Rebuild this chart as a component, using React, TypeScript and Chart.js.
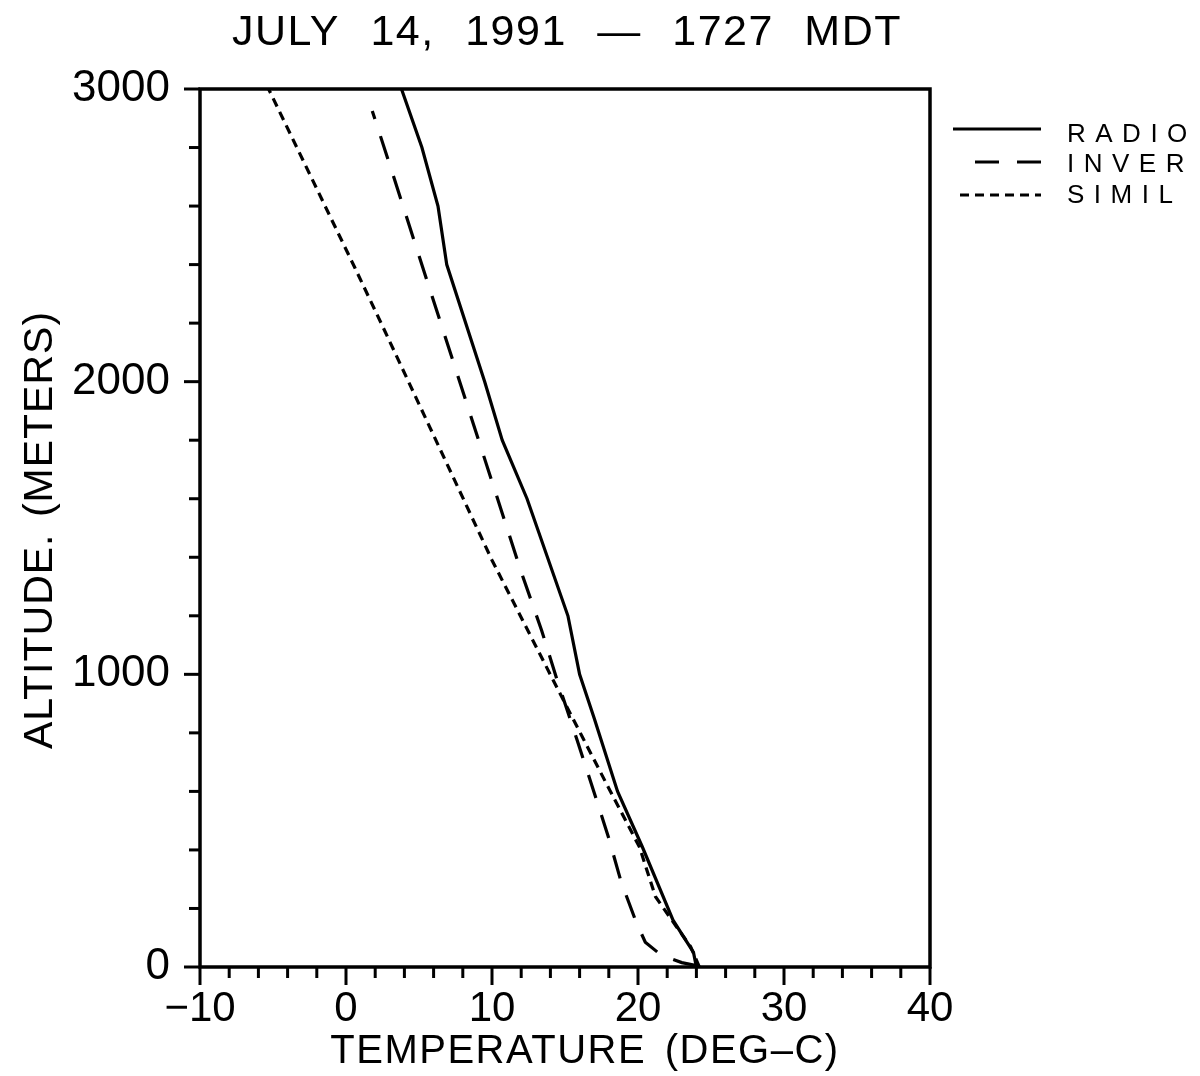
import React, { useEffect, useRef } from "react";
import { Chart, registerables } from "chart.js";

Chart.register(...registerables);

// ---------- text ----------
const TITLE = "JULY 14, 1991 \u2014 1727 MDT";
const X_TITLE = "TEMPERATURE (DEG\u2013C)";
const Y_TITLE = "ALTITUDE. (METERS)";
const SERIES_NAMES = ["RADIO", "INVER", "SIMIL"];

// ---------- axes ----------
const X_MIN = -10;
const X_MAX = 40;
const X_MAJOR = 10;
const X_MINOR = 2;
const Y_MIN = 0;
const Y_MAX = 3000;
const Y_MAJOR = 1000;
const Y_MINOR = 200;

// ---------- data (temperature deg C, altitude m) ----------
const radioAlt = [0, 50, 160, 410, 600, 850, 1000, 1200, 1600, 1800, 2000, 2400, 2600, 2800, 3000];
const radioTemp = [24.0, 23.8, 22.4, 20.3, 18.6, 17.0, 16.0, 15.2, 12.4, 10.7, 9.5, 6.9, 6.3, 5.2, 3.8];

const inverAlt = [5, 15, 40, 85, 150, 290, 440, 580, 780, 990, 1150, 1350, 2430, 2710, 2925];
const inverTemp = [24.0, 23.0, 21.6, 20.5, 19.9, 18.85, 18.0, 17.1, 15.8, 14.4, 13.4, 12.0, 5.0, 3.2, 1.8];

const similAlt = [0, 70, 140, 240, 410, 630, 785, 940, 1390, 2190, 2390, 3000];
const similTemp = [24.2, 23.6, 22.6, 21.2, 20.1, 17.8, 16.2, 14.6, 10.0, 2.5, 0.6, -5.3];

const toPoints = (t: number[], a: number[]) => t.map((v, i) => ({ x: v, y: a[i] }));

const FONT = "'Liberation Sans', Arial, sans-serif";

const DASH_INVER = [24, 18];
const DASH_SIMIL = [9, 6];

const decorPlugin = {
  id: "decor",
  afterDatasetsDraw(chart: any) {
    const { ctx, chartArea, scales } = chart;
    const { left, right, top, bottom } = chartArea;
    const xs = scales.x;
    const ys = scales.y;
    ctx.save();
    ctx.strokeStyle = "#000";
    ctx.fillStyle = "#000";
    ctx.setLineDash([]);
    // frame
    ctx.lineWidth = 3.5;
    ctx.strokeRect(left, top, right - left, bottom - top);
    // ticks
    ctx.lineWidth = 3;
    for (let v = X_MIN; v <= X_MAX + 1e-9; v += X_MINOR) {
      const px = xs.getPixelForValue(v);
      const major = Math.abs(v % X_MAJOR) < 1e-9;
      ctx.beginPath();
      ctx.moveTo(px, bottom);
      ctx.lineTo(px, bottom + (major ? 18 : 11));
      ctx.stroke();
    }
    for (let v = Y_MIN; v <= Y_MAX + 1e-9; v += Y_MINOR) {
      const py = ys.getPixelForValue(v);
      const major = Math.abs(v % Y_MAJOR) < 1e-9;
      ctx.beginPath();
      ctx.moveTo(left, py);
      ctx.lineTo(left - (major ? 16 : 11), py);
      ctx.stroke();
    }

    // title
    ctx.font = `43px ${FONT}`;
    ctx.textAlign = "center";
    ctx.textBaseline = "alphabetic";
    (ctx as any).letterSpacing = "1.5px";
    (ctx as any).wordSpacing = "17px";
    ctx.fillText(TITLE, 567, 45);
    (ctx as any).wordSpacing = "0px";

    // x title
    ctx.font = `40px ${FONT}`;
    (ctx as any).letterSpacing = "1.5px";
    (ctx as any).wordSpacing = "6px";
    ctx.fillText(X_TITLE, 585, 1063);
    (ctx as any).wordSpacing = "0px";

    // y title
    ctx.save();
    ctx.translate(52, 530);
    ctx.rotate(-Math.PI / 2);
    ctx.font = `41px ${FONT}`;
    (ctx as any).letterSpacing = "1px";
    (ctx as any).wordSpacing = "4px";
    ctx.fillText(Y_TITLE, 0, 0);
    ctx.restore();
    (ctx as any).letterSpacing = "0px";
    (ctx as any).wordSpacing = "0px";

    // legend
    const rows = [
      { y: 129, base: 142, dash: [] as number[], x0: 953 },
      { y: 162, base: 172, dash: DASH_INVER, x0: 975 },
      { y: 195, base: 203, dash: DASH_SIMIL, x0: 960 },
    ];
    ctx.lineWidth = 3;
    rows.forEach((r) => {
      ctx.setLineDash(r.dash);
      ctx.beginPath();
      ctx.moveTo(r.x0, r.y);
      ctx.lineTo(1041, r.y);
      ctx.stroke();
    });
    ctx.setLineDash([]);
    ctx.font = `26px ${FONT}`;
    ctx.textAlign = "left";
    (ctx as any).letterSpacing = "9.5px";
    SERIES_NAMES.forEach((n, i) => {
      ctx.fillText(n, 1067, rows[i].base);
    });
    (ctx as any).letterSpacing = "0px";
    ctx.restore();
  },
};

export default function App() {
  const ref = useRef<HTMLCanvasElement | null>(null);
  useEffect(() => {
    if (!ref.current) return;
    const lineCommon = {
      showLine: true,
      pointRadius: 0,
      borderColor: "#000",
      backgroundColor: "#000",
      borderWidth: 3.2,
      fill: false,
      tension: 0,
    };
    const chart = new Chart(ref.current, {
      type: "scatter",
      data: {
        datasets: [
          { ...lineCommon, label: SERIES_NAMES[0], data: toPoints(radioTemp, radioAlt) },
          { ...lineCommon, label: SERIES_NAMES[1], data: toPoints(inverTemp, inverAlt), borderDash: DASH_INVER },
          { ...lineCommon, label: SERIES_NAMES[2], data: toPoints(similTemp, similAlt), borderDash: DASH_SIMIL },
        ],
      } as any,
      options: {
        animation: false,
        responsive: false,
        devicePixelRatio: 1,
        layout: { padding: { left: 0, top: 89, right: 270, bottom: 0 } },
        plugins: {
          legend: { display: false },
          title: { display: false },
          tooltip: { enabled: false },
        },
        scales: {
          x: {
            type: "linear",
            position: "bottom",
            min: X_MIN,
            max: X_MAX,
            grid: { display: false, drawTicks: true, tickLength: 14 },
            border: { display: false },
            ticks: {
              stepSize: X_MAJOR,
              padding: 3,
              color: "#000",
              font: { family: FONT, size: 42 },
              maxRotation: 0,
              callback: (v: any) => (Number(v) < 0 ? "\u2212" + Math.abs(Number(v)) : String(v)),
            },
            afterFit: (s: any) => {
              s.height = 109;
            },
          },
          y: {
            type: "linear",
            min: Y_MIN,
            max: Y_MAX,
            grid: { display: false, drawTicks: true, tickLength: 18 },
            border: { display: false },
            ticks: {
              stepSize: Y_MAJOR,
              padding: 12,
              color: "#000",
              font: { family: FONT, size: 44 },
              callback: (v: any) => String(v),
            },
            afterFit: (s: any) => {
              s.width = 200;
            },
          },
        },
      } as any,
      plugins: [decorPlugin],
    });
    return () => chart.destroy();
  }, []);
  return (
    <div style={{ position: "absolute", left: 0, top: 0, width: 1200, height: 1076, background: "#fff" }}>
      <canvas ref={ref} width={1200} height={1076} style={{ width: 1200, height: 1076 }} />
    </div>
  );
}
